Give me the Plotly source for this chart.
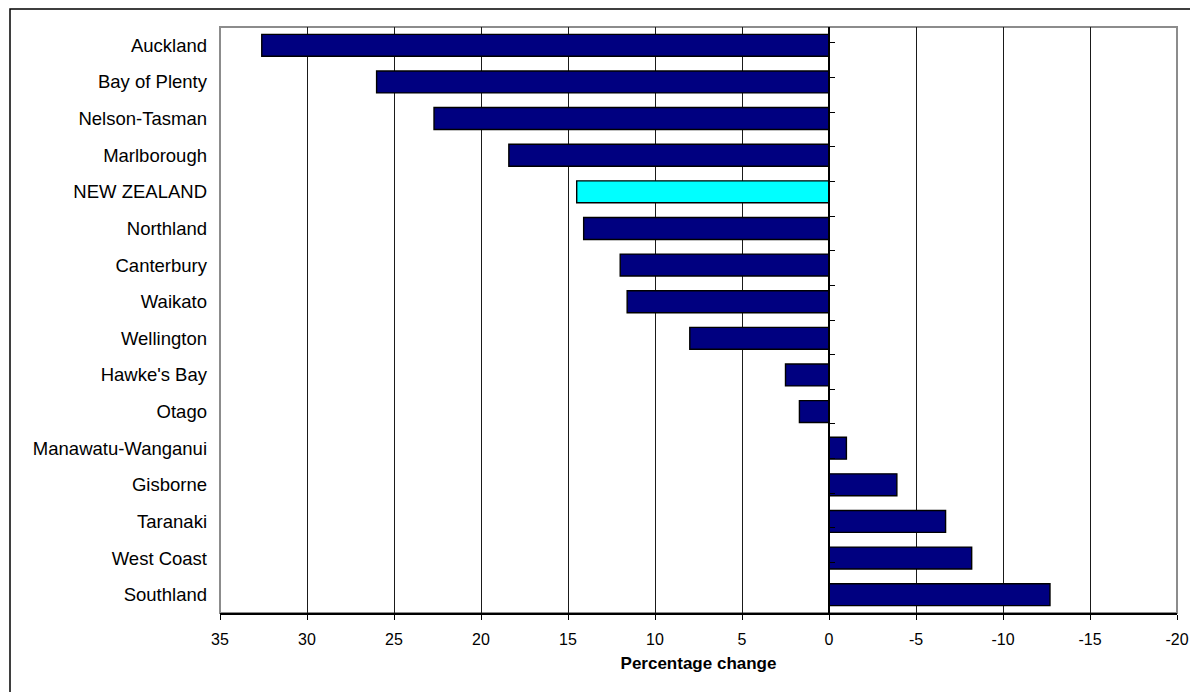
import plotly.graph_objects as go

regions = [
    "Auckland", "Bay of Plenty", "Nelson-Tasman", "Marlborough", "NEW ZEALAND",
    "Northland", "Canterbury", "Waikato", "Wellington", "Hawke's Bay", "Otago",
    "Manawatu-Wanganui", "Gisborne", "Taranaki", "West Coast", "Southland",
]
pct_change = [32.6, 26.0, 22.7, 18.4, 14.5, 14.1, 12.0, 11.6, 8.0, 2.5, 1.7,
              -1.0, -3.9, -6.7, -8.2, -12.7]
x_ticks = [35, 30, 25, 20, 15, 10, 5, 0, -5, -10, -15, -20]
x_range = [35, -20]

NAVY = "#000080"
CYAN = "#00FFFF"
bar_colors = [CYAN if r == "NEW ZEALAND" else NAVY for r in regions]

W, H = 1190, 692
ML, MR, MT, MB = 220, 13, 27, 79
PW, PH = W - ML - MR, H - MT - MB

FONT = "Liberation Sans, Arial, sans-serif"

fig = go.Figure()
fig.add_trace(go.Bar(
    x=pct_change, y=regions, orientation="h",
    marker=dict(color=bar_colors, line=dict(color="black", width=1.4)),
    width=0.6, showlegend=False, hoverinfo="x+y",
))
# invisible companion trace so the zero axis (with boundary ticks) is drawn
fig.add_trace(go.Scatter(
    x=[None] * len(regions), y=regions, yaxis="y2", mode="markers",
    marker=dict(opacity=0), showlegend=False, hoverinfo="skip",
))

zero_pos = (x_range[0] - 0) / (x_range[0] - x_range[1])

fig.update_layout(
    width=W, height=H,
    margin=dict(l=ML, r=MR, t=MT, b=MB, pad=0, autoexpand=False),
    paper_bgcolor="white", plot_bgcolor="white",
    font=dict(family=FONT, color="black", size=16),
    xaxis=dict(
        range=x_range, tickvals=x_ticks, ticktext=[str(v) for v in x_ticks],
        showgrid=True, gridcolor="#1a1a1a", gridwidth=1,
        zeroline=False, showline=True, linecolor="black", linewidth=1.5,
        ticks="outside", ticklen=5, tickcolor="black", automargin=False,
        ticklabelstandoff=6,
        tickfont=dict(size=16, family=FONT),
        title=dict(text="<b>Percentage change</b>", font=dict(size=17, family=FONT), standoff=10),
    ),
    yaxis=dict(
        type="category", categoryarray=regions, categoryorder="array",
        autorange="reversed", showgrid=False, zeroline=False,
        showline=False, ticks="", ticklabelstandoff=12, automargin=False,
        tickfont=dict(size=18.5, family=FONT),
    ),
    yaxis2=dict(
        type="category", categoryarray=regions, categoryorder="array",
        autorange="reversed", overlaying="y", anchor="free",
        position=zero_pos, side="right", showgrid=False, zeroline=False,
        showline=True, linecolor="black", linewidth=1.5, automargin=False,
        ticks="outside", tickson="boundaries", ticklen=5, tickcolor="black",
        showticklabels=False,
    ),
    shapes=[
        # plot-area frame
        dict(type="rect", xref="paper", yref="paper", x0=0, x1=1, y0=0, y1=1,
             line=dict(color="#8c8c8c", width=2), layer="below"),
        # outer chart border
        dict(type="rect", xref="paper", yref="paper",
             x0=(10 - ML) / PW, x1=1.2, y0=-0.3, y1=1 + (MT - 9) / PH,
             line=dict(color="black", width=1.5)),
    ],
)

fig.write_html("out.html")
